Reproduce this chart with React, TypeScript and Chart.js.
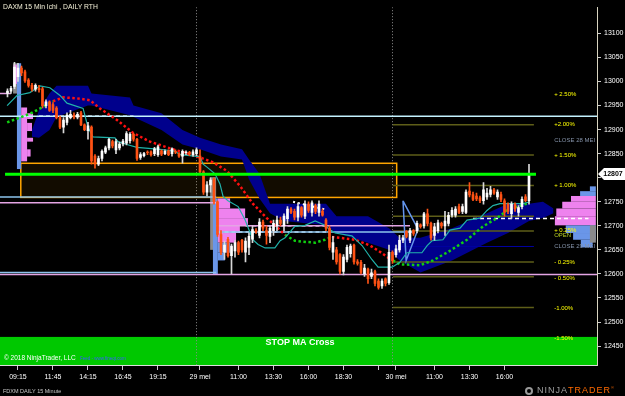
import React, { useEffect, useRef } from 'react';
import { Chart, registerables } from 'chart.js';
Chart.register(...registerables);

const FONT = 'Arial, "Liberation Sans", sans-serif';

// ---------- data ----------
const FIRST_BAR = 1;
const opens = [12975,12980,12990,13010,13028,13020,13003,12992,12984,12986,12985,12950,12958,12952,12945,12925,12905,12915,12925,12930,12926,12935,12910,12898,12905,12845,12828,12840,12853,12862,12875,12858,12862,12870,12872,12877,12890,12880,12842,12846,12852,12854,12850,12848,12856,12850,12856,12850,12855,12850,12845,12852,12853,12848,12850,
12845,12812,12770,12785,12797,12750,12682,12645,12672,12638,12648,12665,12670,12645,12655,12672,12690,12680,12708,12690,12678,12690,12700,12712,12700,12715,12735,12730,12718,12738,12720,12745,12728,12742,12728,12730,12712,12695,12645,12650,12640,12605,12630,12642,12660,12625,12624,12600,12610,12595,12605,12585,12575,12590,12582,12645,
12640,12650,12670,12688,12670,12690,12690,12702,12700,12725,12705,12680,12690,12705,12700,12705,12722,12722,12740,12730,12728,12772,12765,12762,12758,12752,12760,12765,12775,12760,12765,12752,12745,12725,12745,12728,12740,12760,12752];
const highs = [12985,12990,13040,13038,13032,13024,13006,12996,12995,12992,12988,12962,12960,12956,12948,12928,12925,12935,12940,12935,12936,12938,12912,12915,12908,12848,12845,12858,12866,12882,12878,12880,12874,12880,12896,12894,12893,12882,12852,12853,12856,12856,12863,12868,12858,12858,12858,12862,12858,12852,12858,12856,12855,12858,12862,
12858,12815,12792,12800,12800,12752,12690,12668,12676,12662,12670,12668,12672,12675,12685,12700,12694,12715,12712,12700,12700,12712,12720,12718,12725,12740,12738,12735,12748,12740,12752,12750,12752,12745,12752,12735,12715,12700,12678,12655,12642,12640,12660,12662,12662,12630,12628,12620,12612,12610,12608,12590,12590,12592,12660,12648,
12660,12680,12680,12690,12695,12692,12710,12704,12728,12735,12708,12705,12712,12708,12730,12728,12738,12740,12745,12745,12775,12790,12770,12768,12762,12790,12778,12782,12778,12775,12770,12756,12748,12750,12748,12742,12760,12765,12828];
const lows = [12968,12975,12985,13000,13012,12998,12988,12980,12980,12978,12945,12945,12938,12935,12922,12902,12893,12910,12922,12922,12922,12908,12898,12880,12828,12820,12825,12835,12850,12858,12862,12850,12858,12866,12868,12872,12876,12836,12838,12843,12848,12845,12846,12844,12846,12848,12846,12845,12850,12842,12830,12848,12846,12845,12846,
12808,12765,12762,12770,12745,12678,12640,12630,12635,12600,12635,12640,12645,12625,12640,12665,12684,12675,12690,12662,12665,12680,12690,12700,12690,12705,12725,12712,12710,12718,12715,12728,12720,12725,12720,12720,12690,12650,12630,12620,12600,12598,12625,12635,12620,12618,12600,12595,12580,12590,12575,12568,12570,12575,12578,12622,
12635,12645,12665,12675,12665,12680,12685,12695,12695,12700,12670,12670,12685,12695,12680,12700,12718,12718,12725,12725,12725,12760,12752,12752,12748,12745,12755,12760,12765,12755,12750,12720,12725,12715,12730,12720,12735,12750,12745];
const closes = [12980,12986,13030,13028,13018,13001,12992,12984,12992,12983,12950,12958,12940,12940,12925,12905,12920,12930,12932,12926,12932,12910,12900,12908,12835,12828,12840,12855,12862,12880,12866,12875,12870,12876,12892,12890,12880,12840,12848,12850,12851,12848,12860,12864,12849,12855,12848,12860,12853,12845,12855,12853,12849,12854,12858,
12812,12770,12785,12795,12750,12682,12645,12660,12638,12658,12665,12645,12650,12668,12678,12692,12688,12708,12695,12680,12695,12705,12712,12705,12720,12735,12728,12718,12740,12722,12745,12732,12748,12730,12745,12722,12695,12655,12665,12625,12605,12635,12655,12658,12625,12622,12603,12612,12590,12602,12580,12572,12585,12580,12645,12628,
12652,12670,12675,12678,12690,12684,12705,12698,12725,12705,12675,12698,12706,12700,12710,12722,12732,12735,12728,12740,12770,12764,12755,12756,12752,12775,12768,12775,12768,12770,12755,12728,12730,12745,12735,12738,12755,12752,12807];

// Ichimoku cloud (bar index, span A, span B)
const cloudIdx = [8,10,13,15,24,25,36,37,45,51,56,62,68,70,73,76,80,92,95,104,110,113,119,128,138,144,150,154,157];
const cloudTop = [12899,12940,12975,12991,12991,12975,12967,12950,12934,12899,12883,12869,12859,12838,12808,12746,12746,12746,12720,12720,12695,12675,12675,12695,12726,12746,12746,12750,12736];
const cloudBot = [12885,12883,12899,12926,12950,12950,12930,12926,12899,12869,12859,12844,12838,12797,12757,12726,12710,12701,12685,12665,12650,12628,12603,12628,12665,12685,12710,12716,12726];

// Kijun line
const kijunIdx = [0.9,3.7,7.4,10.3,13.1,16,18,22.6,24,25.4,31.7,32.6,35.1,38,44.6,48.9,50.3,56,56.9,58,60.3,61.7,62.6,64,66.9,68.9,71.1,72.6,74.6,77.4,78.9,80.3,83.1,86,88.9,91.7,92.6,94.6,99.4,102.3,105.1,106.9,110.9,113.1,115.1,119.4,120.9,122.3,125.4,127.4,130.3,132.3,136,138,139.7,141.7,148.3,150.3];
const kijunVal = [12950,12971,12977,12991,12987,12971,12955,12944,12905,12885,12883,12875,12869,12863,12859,12855,12848,12844,12828,12822,12808,12787,12761,12752,12740,12712,12671,12661,12654,12654,12669,12675,12699,12701,12710,12701,12695,12685,12679,12659,12630,12614,12614,12624,12644,12644,12659,12669,12671,12691,12695,12712,12716,12732,12742,12746,12746,12750];

// moving average, split by colour
const maUpIdx1 = [0.9,4.6,8,11.1,14];
const maUpVal1 = [12915,12925,12935,12947,12959];
const maDnIdx1 = [14,16.9,20.9,24.6,27.4,32.3,36.9,41.7,46.6,51.1,56,59.7,63.7,67.4,71.1,75.1,78.9,80.3];
const maDnVal1 = [12959,12967,12965,12961,12944,12920,12893,12875,12863,12853,12842,12832,12814,12783,12746,12716,12691,12681];
const maUpIdx2 = [80.3,83.1,85.4,88.9,91.7,93.7];
const maUpVal2 = [12681,12669,12667,12665,12671,12677];
const maDnIdx2 = [93.7,100.3,104.6,107.4,109.7,111.1];
const maDnVal2 = [12677,12671,12659,12646,12634,12628];
const maUpIdx3 = [111.1,113.1,118.9,122.6,127.4,132.3,136.9,140.9,143.7,146.6,149.4];
const maUpVal3 = [12628,12620,12618,12628,12648,12671,12699,12716,12732,12740,12746];

// horizontal levels: [price, from bar, to bar, style]
const hLines: [number, number, number, string][] = [
  [12928, -2, 170, 'cyan'],
  [12975, -2, 2, 'pink'],
  [12760, -2, 60.6, 'lightBlue'],
  [12748, -2, 60.6, 'pink'],
  [12603, -2, 60.6, 'lightBlue'],
  [12599, -2, 170, 'pink'],
  [12700, 60.6, 116, 'pink'],
  [12687, 60.6, 116.6, 'lightBlue'],
  [12928, 10, 37, 'whiteDash'],
  [12700, 69, 92, 'whiteDash'],
  [12687, 61, 92, 'whiteDash'],
  [12715, 134, 167, 'whiteDash'],
  [12910, 111.1, 151.4, 'olive'],
  [12847, 111.1, 151.4, 'olive'],
  [12784, 111.1, 151.4, 'olive'],
  [12720, 111.1, 151.4, 'olive'],
  [12689, 111.1, 151.4, 'olive'],
  [12625, 111.1, 151.4, 'olive'],
  [12594, 111.1, 151.4, 'olive'],
  [12530, 111.1, 151.4, 'olive'],
  [12657, 111.1, 151.4, 'navy'],
  [12807, 0.3, 152, 'green'],
];

// drawn objects
const triangleIdx = [114, 118.3, 114.9, 114];
const triangleVal = [12752, 12693, 12628, 12752];
const trendIdx = [82.6, 92.3];
const trendVal = [12750, 12733];
const boxRange = [4.8, 112.2, 12830, 12759];
const stopBandTop = 12469;
const sessionBreaks = [55, 111];

// volume profiles: [price top, price bottom, from bar, to bar, colour key]
const profileRows: [number, number, number, number, string][] = [
  [13038, 12975, 2.6, 3.7, 'gray'],
  [13035, 12995, 2.7, 3.7, 'pink'],
  [13038, 12818, 3.7, 4.9, 'blue'],
  [12946, 12834, 4.9, 6.6, 'pink'],
  [12934, 12922, 6.6, 8.3, 'pink'],
  [12914, 12897, 6.6, 8.0, 'pink'],
  [12883, 12875, 6.6, 8.3, 'pink'],
  [12859, 12844, 6.6, 7.6, 'pink'],
  [12801, 12650, 58.9, 60.6, 'gray'],
  [12757, 12599, 59.7, 61.1, 'blue'],
  [12757, 12736, 61.1, 64.6, 'pink'],
  [12736, 12716, 61.1, 68.9, 'pink'],
  [12716, 12701, 61.1, 69.7, 'pink'],
  [12701, 12685, 61.1, 67.4, 'pink'],
  [12685, 12665, 61.1, 66.3, 'pink'],
  [12665, 12644, 61.1, 64.6, 'blue'],
  [12644, 12628, 61.1, 63.1, 'blue'],
  [12782, 12772, 167.4, 169.1, 'blue'],
  [12772, 12762, 164.6, 169.1, 'blue'],
  [12762, 12750, 162.0, 169.1, 'pink'],
  [12750, 12736, 159.5, 169.1, 'pink'],
  [12736, 12720, 157.8, 169.1, 'pink'],
  [12720, 12701, 157.4, 169.1, 'pink'],
  [12701, 12685, 160.5, 169.1, 'blue'],
  [12685, 12671, 162.6, 169.1, 'blue'],
  [12671, 12655, 164.8, 168.2, 'blue'],
  [12701, 12665, 167.4, 169.1, 'gray'],
];

const sideLabels = ['+ 2.50%', '+2.00%', 'CLOSE 28 MEI', '+ 1.50%', '+ 1.00%', '+ 0.25%', 'OPEN', 'CLOSE 29 MEI', '- 0.25%', '- 0.50%', '-1.00%', '-1.50%'];
const sideLabelPrices = [12973, 12910, 12877, 12847, 12784, 12691, 12681, 12657, 12624, 12591, 12528, 12467];
const sideLabelKinds = ['pct', 'pct', 'close', 'pct', 'pct', 'pct', 'open', 'close', 'pct', 'pct', 'pct', 'pct'];

const timeTickIndex = [4, 14, 24, 34, 44, 56, 67, 77, 87, 97, 107, 112, 123, 133, 143];
const timeTickLabels = ['09:15', '11:45', '14:15', '16:45', '19:15', '29 mei', '11:00', '13:30', '16:00', '18:30', '', '30 mei', '11:00', '13:30', '16:00'];
const priceTicks = [12450, 12500, 12550, 12600, 12650, 12700, 12750, 12800, 12850, 12900, 12950, 13000, 13050, 13100];

// ---------- styles ----------
const UP = '#ffffff';
const DOWN = '#ff5214';
const lineStyles: Record<string, { color: string; width: number; dash?: number[] }> = {
  cyan: { color: '#c4f2ff', width: 1.5 },
  pink: { color: '#e4a4e4', width: 1.5 },
  lightBlue: { color: '#8cc4ec', width: 1.5 },
  whiteDash: { color: '#ffffff', width: 1.5, dash: [4, 3] },
  olive: { color: '#5e5e18', width: 1.5 },
  navy: { color: '#0000a0', width: 1 },
  green: { color: '#00ff00', width: 3 },
};
const profileColors: Record<string, string> = { pink: '#ee82ee', blue: '#6a96e8', gray: '#8a8a8a' };

const pts = (xs: number[], ys: number[]) => xs.map((x, k) => ({ x, y: ys[k] }));

export default function App() {
  const ref = useRef<HTMLCanvasElement>(null);
  useEffect(() => {
    document.body.style.margin = '0';
    document.body.style.background = '#000';
    const bodies = opens.map((o, k) => {
      const c = closes[k];
      return { x: FIRST_BAR + k, y: [o, Math.abs(c - o) < 1.5 ? o + 1.5 : c] };
    });
    const wicks = opens.map((o, k) => ({ x: FIRST_BAR + k, y: [lows[k], highs[k]] }));
    const colors = opens.map((o, k) => (closes[k] >= o ? UP : DOWN));
    const wickColors = opens.map((o, k) => (closes[k] >= o ? '#d8d8d8' : DOWN));

    const lineBase = { type: 'line' as const, pointRadius: 0, tension: 0, fill: false };
    const levelSets = hLines.map(([p, a, b, s], k) => ({
      ...lineBase,
      label: 'lvl' + k,
      data: [{ x: a, y: p }, { x: b, y: p }],
      borderColor: lineStyles[s].color,
      borderWidth: lineStyles[s].width,
      borderDash: lineStyles[s].dash || [],
      order: s === 'green' ? 5 : 50,
    }));
    const maStyle = (color: string) => ({ ...lineBase, borderColor: color, borderWidth: 2.5, borderDash: [2.5, 2.5], order: 40 });

    const overlay = {
      id: 'overlay',
      beforeDraw(chart: any) {
        const ctx = chart.ctx;
        ctx.save();
        ctx.fillStyle = '#000';
        ctx.fillRect(0, 0, chart.width, chart.height);
        ctx.restore();
      },
      beforeDatasetsDraw(chart: any) {
        const { ctx, chartArea: ca, scales } = chart;
        const xs = scales.x, ys = scales.y;
        ctx.save();
        ctx.beginPath();
        ctx.rect(ca.left, ca.top, ca.right - ca.left, ca.bottom - ca.top);
        ctx.clip();
        const bandY = ys.getPixelForValue(stopBandTop);
        ctx.fillStyle = '#00c800';
        ctx.fillRect(ca.left, bandY, ca.right - ca.left, ca.bottom - bandY);
        ctx.strokeStyle = '#8c8c8c';
        ctx.lineWidth = 1;
        ctx.setLineDash([1, 2]);
        sessionBreaks.forEach((b) => {
          const x = Math.round(xs.getPixelForValue(b)) + 0.5;
          ctx.beginPath();
          ctx.moveTo(x, ca.top);
          ctx.lineTo(x, ca.bottom);
          ctx.stroke();
        });
        ctx.setLineDash([]);
        const bx1 = xs.getPixelForValue(boxRange[0]);
        const bx2 = xs.getPixelForValue(boxRange[1]);
        const by1 = ys.getPixelForValue(boxRange[2]);
        const by2 = ys.getPixelForValue(boxRange[3]);
        ctx.fillStyle = 'rgba(255,165,0,0.07)';
        ctx.fillRect(bx1, by1, bx2 - bx1, by2 - by1);
        ctx.strokeStyle = '#ffa500';
        ctx.lineWidth = 1.5;
        ctx.strokeRect(bx1, by1, bx2 - bx1, by2 - by1);
        profileRows.forEach(([pt, pb, a, b, c]) => {
          const x1 = xs.getPixelForValue(a), x2 = xs.getPixelForValue(b);
          const y1 = ys.getPixelForValue(pt), y2 = ys.getPixelForValue(pb);
          ctx.fillStyle = profileColors[c];
          ctx.fillRect(x1, y1, x2 - x1, y2 - y1);
        });
        ctx.restore();
      },
      afterDraw(chart: any) {
        const { ctx, chartArea: ca, scales } = chart;
        const xs = scales.x, ys = scales.y;
        ctx.save();
        ctx.textBaseline = 'middle';
        ctx.font = `6.8px ${FONT}`;
        ctx.fillStyle = '#f4f0d8';
        ctx.textAlign = 'left';
        ctx.fillText('DAXM 15 Min Ichi , DAILY RTH', 3, 7);
        const lx = xs.getPixelForValue(157.2);
        ctx.font = `6px ${FONT}`;
        sideLabels.forEach((t, k) => {
          const kind = sideLabelKinds[k];
          ctx.fillStyle = kind === 'pct' ? '#ffff00' : kind === 'open' ? '#b8d020' : '#8492a8';
          ctx.fillText(t, lx, ys.getPixelForValue(sideLabelPrices[k]));
        });
        const bandY = ys.getPixelForValue(stopBandTop);
        ctx.font = `bold 9px ${FONT}`;
        ctx.fillStyle = '#ffffff';
        ctx.textAlign = 'center';
        ctx.fillText('STOP MA Cross', 300, bandY + 5.5);
        ctx.textAlign = 'left';
        ctx.font = `6.5px ${FONT}`;
        ctx.fillText('\u00a9 2018 NinjaTrader, LLC', 4, ca.bottom - 7);
        ctx.font = `4.5px ${FONT}`;
        ctx.fillStyle = '#3a5cff';
        ctx.fillText('Feed - www.fineqt.com', 80, ca.bottom - 6.5);
        ctx.font = `5.5px ${FONT}`;
        ctx.fillStyle = '#c8c8c8';
        ctx.fillText('FDXM DAILY 15 Minute', 3, 391);
        // logo
        ctx.beginPath();
        ctx.arc(529, 391, 4, 0, Math.PI * 2);
        ctx.fillStyle = '#9a9a9a';
        ctx.fill();
        ctx.beginPath();
        ctx.arc(529, 391, 2, 0, Math.PI * 2);
        ctx.fillStyle = '#000';
        ctx.fill();
        ctx.font = `9px ${FONT}`;
        (ctx as any).letterSpacing = '1px';
        ctx.fillStyle = '#a0a0a0';
        ctx.fillText('NINJA', 537, 391);
        const w = ctx.measureText('NINJA').width;
        ctx.fillStyle = '#ff6a00';
        ctx.fillText('TRADER', 537 + w, 391);
        const w2 = ctx.measureText('TRADER').width;
        (ctx as any).letterSpacing = '0px';
        ctx.font = `4px ${FONT}`;
        ctx.fillText('\u00ae', 537 + w + w2, 388);
        // current price flag
        const last = closes[closes.length - 1];
        const py = Math.round(ys.getPixelForValue(last));
        const fx = ca.right + 1;
        ctx.beginPath();
        ctx.moveTo(fx, py);
        ctx.lineTo(fx + 6, py - 6);
        ctx.lineTo(625, py - 6);
        ctx.lineTo(625, py + 6);
        ctx.lineTo(fx + 6, py + 6);
        ctx.closePath();
        ctx.fillStyle = '#ffffff';
        ctx.fill();
        ctx.fillStyle = '#000';
        ctx.font = `bold 7px ${FONT}`;
        ctx.textAlign = 'center';
        ctx.fillText(String(last), fx + 15, py + 0.5);
        ctx.restore();
      },
    };

    const chart = new Chart(ref.current!, {
      type: 'bar',
      data: {
        datasets: [
          { ...lineBase, label: 'spanA', data: pts(cloudIdx, cloudTop), borderWidth: 0, borderColor: 'rgba(0,0,0,0)', backgroundColor: '#00008c', fill: '+1', order: 100 },
          { ...lineBase, label: 'spanB', data: pts(cloudIdx, cloudBot), borderWidth: 0, borderColor: 'rgba(0,0,0,0)', order: 99 },
          ...levelSets,
          { ...lineBase, label: 'triangle', data: pts(triangleIdx, triangleVal), borderColor: '#6495ed', borderWidth: 1.5, order: 45 },
          { ...lineBase, label: 'trend', data: pts(trendIdx, trendVal), borderColor: '#ffffff', borderWidth: 2, borderDash: [2, 3], order: 45 },
          { ...maStyle('#10d010'), label: 'maUp1', data: pts(maUpIdx1, maUpVal1) },
          { ...maStyle('#ff1010'), label: 'maDn1', data: pts(maDnIdx1, maDnVal1) },
          { ...maStyle('#10d010'), label: 'maUp2', data: pts(maUpIdx2, maUpVal2) },
          { ...maStyle('#ff1010'), label: 'maDn2', data: pts(maDnIdx2, maDnVal2) },
          { ...maStyle('#10d010'), label: 'maUp3', data: pts(maUpIdx3, maUpVal3) },
          { ...lineBase, label: 'kijun', data: pts(kijunIdx, kijunVal), borderColor: '#20b2aa', borderWidth: 1.2, order: 30 },
          { type: 'bar', label: 'wick', data: wicks as any, backgroundColor: wickColors, borderWidth: 0, barThickness: 1, grouped: false, order: 20 },
          { type: 'bar', label: 'body', data: bodies as any, backgroundColor: colors, borderWidth: 0, barThickness: 2, grouped: false, order: 10 },
        ] as any,
      },
      options: {
        animation: false,
        responsive: false,
        devicePixelRatio: 1,
        events: [],
        layout: { padding: 0 },
        plugins: { legend: { display: false }, tooltip: { enabled: false } },
        scales: {
          x: {
            type: 'linear',
            min: -1.14,
            max: 169.43,
            offset: false,
            afterBuildTicks: (s: any) => { s.ticks = timeTickIndex.map((v) => ({ value: v })); },
            afterFit: (s: any) => { s.height = 31; },
            ticks: {
              autoSkip: false,
              maxRotation: 0,
              padding: 3,
              color: '#ffffff',
              font: { size: 7, family: FONT },
              callback: (v: any) => { const k = timeTickIndex.indexOf(Number(v)); return k >= 0 ? timeTickLabels[k] : ''; },
            },
            grid: { drawOnChartArea: false, drawTicks: true, tickLength: 5, color: '#cccccc', offset: false },
            border: { display: true, color: '#dddddd' },
          },
          y: {
            type: 'linear',
            position: 'right',
            min: 12410.6,
            max: 13154.5,
            afterBuildTicks: (s: any) => { s.ticks = priceTicks.map((v) => ({ value: v })); },
            afterFit: (s: any) => { s.width = 28; },
            ticks: { color: '#ffffff', font: { size: 7, family: FONT }, padding: 3, callback: (v: any) => String(v) },
            grid: { drawOnChartArea: false, drawTicks: true, tickLength: 4, color: '#cccccc' },
            border: { display: true, color: '#d8d4c0' },
          },
        },
      },
      plugins: [overlay],
    } as any);
    return () => chart.destroy();
  }, []);
  return (
    <div style={{ width: 625, height: 396, background: '#000' }}>
      <canvas ref={ref} width={625} height={396} style={{ display: 'block', width: 625, height: 396 }} />
    </div>
  );
}
